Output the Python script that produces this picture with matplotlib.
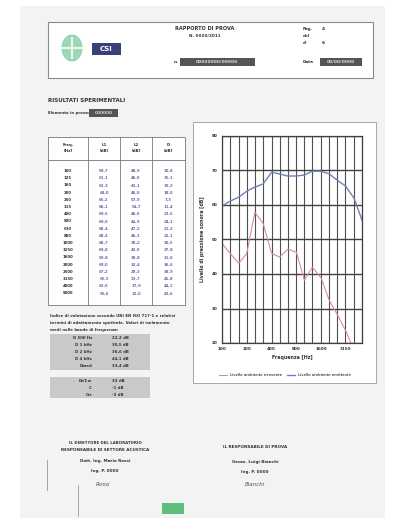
import matplotlib
matplotlib.use("Agg")
import matplotlib.pyplot as plt
import matplotlib.ticker as mticker
from matplotlib.patches import Rectangle, Circle

# ─── Data (third-octave bands) ───────────────────────────────────────────────
freqs = [100, 125, 160, 200, 250, 315, 400, 500, 630, 800,
         1000, 1250, 1600, 2000, 2500, 3150, 4000, 5000]
level_src = [59.7, 61.1, 62.3, 64.0, 65.2, 66.1, 69.5, 69.0, 68.4, 68.4,
             68.7, 69.8, 69.8, 69.0, 67.2, 65.5, 62.0, 55.6]
level_rcv = [48.9, 46.0, 43.1, 46.0, 57.9, 54.7, 46.0, 44.9, 47.2, 46.3,
             38.2, 42.0, 38.8, 32.4, 28.3, 23.7, 17.9, 12.0]
xtick_vals = [100, 200, 400, 800, 1600, 3150]
ytick_vals = [20, 30, 40, 50, 60, 70, 80]

summary_labels = ["D 500 Hz", "D 1 kHz", "D 2 kHz", "D 4 kHz", "Dmed"]
summary_values = ["22,2 dB", "30,5 dB", "36,6 dB", "44,1 dB", "33,4 dB"]
index_labels = ["DnT,w", "C", "Ctr"]
index_values = ["33 dB", "-1 dB", "-3 dB"]

W, H = 400, 518
BLUE = "#6f7fb8"
RED = "#d98aa6"
DARK = "#333333"


def fx(x):
    return x / W


def fy(y):
    return 1 - y / H


def txt(x, y, s, **kw):
    kw.setdefault("fontsize", 3.2)
    kw.setdefault("color", DARK)
    kw.setdefault("fontweight", "bold")
    kw.setdefault("va", "center")
    fig.text(fx(x), fy(y), s, **kw)


def rect(x0, y0, x1, y1, **kw):
    fig.add_artist(Rectangle((fx(x0), fy(y1)), fx(x1) - fx(x0), fy(y0) - fy(y1),
                             transform=fig.transFigure, **kw))


def hline(x0, x1, y, **kw):
    fig.add_artist(plt.Line2D([fx(x0), fx(x1)], [fy(y), fy(y)],
                              transform=fig.transFigure, **kw))


def vline(x, y0, y1, **kw):
    fig.add_artist(plt.Line2D([fx(x), fx(x)], [fy(y0), fy(y1)],
                              transform=fig.transFigure, **kw))


fig = plt.figure(figsize=(4, 5.18), dpi=100)
fig.patch.set_facecolor("white")

# page
rect(20, 6, 385, 518, facecolor="#f3f3f3", edgecolor="none")

# ─── Header ──────────────────────────────────────────────────────────────────
rect(48, 22, 373, 78, facecolor="white", edgecolor="#8a8a8a", linewidth=0.8)
fig.add_artist(Circle((fx(72), fy(48)), 10 / W, transform=fig.transFigure,
                      facecolor="#9fd8b8", edgecolor="#7cc39c", linewidth=0.5))
vline(72, 38, 58, color="white", linewidth=1.2)
hline(62, 82, 48, color="white", linewidth=1.2)
rect(92, 43, 121, 55, facecolor="#3d3f7a", edgecolor="none")
txt(106.5, 49, "CSI", fontsize=5, color="white", ha="center")
txt(205, 29, "RAPPORTO DI PROVA", fontsize=3.6, ha="center")
txt(205, 36, "N. 0000/2011", fontsize=3, ha="center")
txt(174, 62, "n.", fontsize=3.2)
rect(180, 58, 255, 66, facecolor="#555555", edgecolor="none")
txt(217, 62, "00000000/00000", fontsize=3.2, color="#dddddd", ha="center")
txt(303, 29, "Pag.", fontsize=3)
txt(322, 29, "4", fontsize=3.2)
txt(303, 36, "del", fontsize=3)
txt(303, 43, "di", fontsize=3)
txt(322, 43, "6", fontsize=3.2)
txt(303, 62, "Data", fontsize=3)
rect(320, 58, 362, 66, facecolor="#555555", edgecolor="none")
txt(341, 62, "00/00/0000", fontsize=3.2, color="#dddddd", ha="center")

txt(48, 101, "RISULTATI SPERIMENTALI", fontsize=4)
txt(48, 113, "Elemento in prova:", fontsize=2.8)
rect(89, 109, 118, 117, facecolor="#555555", edgecolor="none")
txt(103.5, 113, "000000", fontsize=3.0, color="#dddddd", ha="center")

# ─── Table ───────────────────────────────────────────────────────────────────
tx = [48, 88, 120, 152, 185]
rect(tx[0], 137, tx[-1], 305, facecolor="white", edgecolor="#777777", linewidth=0.6)
for x in tx[1:-1]:
    vline(x, 137, 305, color="#777777", linewidth=0.6)
hline(tx[0], tx[-1], 160, color="#777777", linewidth=0.6)
heads = [("Freq.", "[Hz]"), ("L1", "[dB]"), ("L2", "[dB]"), ("D", "[dB]")]
for i, (h1, h2) in enumerate(heads):
    cx = (tx[i] + tx[i + 1]) / 2
    txt(cx, 145, h1, fontsize=2.8, ha="center")
    txt(cx, 151, h2, fontsize=2.8, ha="center")
for j, f in enumerate(freqs):
    y = 171 + j * 7.2
    cols = [f"{f}", f"{level_src[j]:.1f}", f"{level_rcv[j]:.1f}",
            f"{level_src[j] - level_rcv[j]:.1f}"]
    for i, s in enumerate(cols):
        cx = (tx[i] + tx[i + 1]) / 2
        txt(cx, y, s.replace(".", ","), fontsize=2.8, ha="center",
            color=DARK if i == 0 else "#6a6fa8")

txt(50, 316, "Indice di valutazione secondo UNI EN ISO 717-1 e relativi", fontsize=2.8)
txt(50, 323, "termini di adattamento spettrale. Valori di isolamento", fontsize=2.8)
txt(50, 330, "medi nelle bande di frequenza:", fontsize=2.8)
rect(50, 334, 150, 370, facecolor="#c9c9c9", edgecolor="none")
for j, (lab, val) in enumerate(zip(summary_labels, summary_values)):
    y = 338 + j * 7
    txt(92, y, lab, fontsize=2.8, ha="right")
    txt(112, y, val, fontsize=2.8)
rect(50, 377, 150, 398, facecolor="#c9c9c9", edgecolor="none")
for j, (lab, val) in enumerate(zip(index_labels, index_values)):
    y = 381 + j * 7
    txt(92, y, lab, fontsize=2.8, ha="right")
    txt(112, y, val, fontsize=2.8)

# ─── Chart ───────────────────────────────────────────────────────────────────
rect(193, 122, 376, 383, facecolor="white", edgecolor="#9a9a9a", linewidth=0.6)
ax = fig.add_axes([fx(222), fy(343), fx(362) - fx(222), fy(136) - fy(343)])
ax.set_zorder(5)
ax.set_facecolor("white")
ax.plot(freqs, level_rcv, color=RED, linewidth=0.8, label="Livello ambiente ricevente")
ax.plot(freqs, level_src, color=BLUE, linewidth=1.0, label="Livello ambiente emittente")
ax.set_xscale("log")
ax.set_xlim(100, 5000)
ax.set_ylim(20, 80)
ax.xaxis.set_major_locator(mticker.FixedLocator(xtick_vals))
ax.xaxis.set_major_formatter(mticker.FixedFormatter([str(v) for v in xtick_vals]))
ax.xaxis.set_minor_locator(mticker.FixedLocator(freqs))
ax.xaxis.set_minor_formatter(mticker.NullFormatter())
ax.set_yticks(ytick_vals)
ax.set_axisbelow(True)
ax.grid(True, which="both", axis="x", color="#505050", linewidth=0.8)
ax.grid(True, which="major", axis="y", color="#404040", linewidth=1.0)
ax.tick_params(which="both", length=0, labelsize=3, pad=3, colors=DARK)
for lab in ax.get_xticklabels() + ax.get_yticklabels():
    lab.set_fontweight("bold")
for s in ax.spines.values():
    s.set_color("#404040")
    s.set_linewidth(0.9)
ax.set_xlabel("Frequenza [Hz]", fontsize=3.4, fontweight="bold", labelpad=3, color=DARK)
ax.set_ylabel("Livello di pressione sonora [dB]", fontsize=3.4, fontweight="bold",
              labelpad=5, color=DARK)
ax.legend(loc="upper center", bbox_to_anchor=(0.45, -0.13), ncol=2, fontsize=2.8,
          frameon=False, handlelength=2, columnspacing=1.5)

# ─── Signatures ──────────────────────────────────────────────────────────────
txt(105, 443, "IL DIRETTORE DEL LABORATORIO", fontsize=2.8, ha="center")
txt(105, 450, "RESPONSABILE DI SETTORE ACUSTICA", fontsize=3, ha="center")
txt(105, 461, "Dott. Ing. Mario Rossi", fontsize=3, ha="center")
txt(105, 471, "Ing. P. 0000", fontsize=3, ha="center")
txt(103, 484, "Rossi", fontsize=4, ha="center", fontweight="normal",
    fontstyle="italic", color="#555555")
vline(78, 485, 516, color="#888888", linewidth=0.5)
vline(47, 460, 490, color="#999999", linewidth=0.6)
txt(255, 447, "IL RESPONSABILE DI PROVA", fontsize=3, ha="center")
txt(255, 462, "Geom. Luigi Bianchi", fontsize=3, ha="center")
txt(255, 472, "Ing. P. 0000", fontsize=3, ha="center")
txt(255, 484, "Bianchi", fontsize=4, ha="center", fontweight="normal",
    fontstyle="italic", color="#555555")
rect(162, 503, 184, 514, facecolor="#5dbf7d", edgecolor="none")

fig.savefig("out.png", dpi=100, facecolor="white")
